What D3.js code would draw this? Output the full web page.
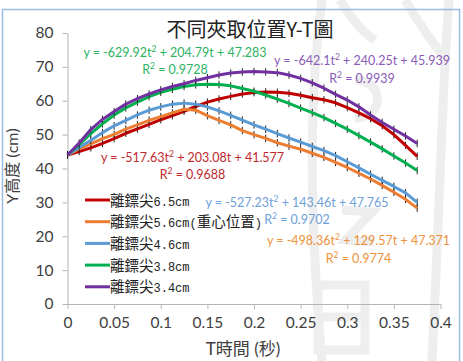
<!DOCTYPE html>
<html>
<head>
<meta charset="utf-8">
<script src="https://cdn.jsdelivr.net/npm/d3@7"></script>
<style>
  html, body { margin: 0; padding: 0; background: #fff; }
  svg { display: block; }
</style>
</head>
<body>
<svg id="chart" width="463" height="361"></svg>
<script>
// Sample times (s)
const times = [0, 0.0125, 0.025, 0.0375, 0.05, 0.0625, 0.075, 0.0875, 0.1, 0.1125,
  0.125, 0.1375, 0.15, 0.1625, 0.175, 0.1875, 0.2, 0.2125, 0.225, 0.2375,
  0.25, 0.2625, 0.275, 0.2875, 0.3, 0.3125, 0.325, 0.3375, 0.35, 0.3625, 0.375];

// Height (cm) for each grip position
const y65 = [44.0, 45.0, 46.1, 47.4, 48.8, 50.4, 51.7, 53.0, 54.4, 55.6,
  56.9, 58.3, 59.6, 60.5, 61.3, 62.0, 62.4, 62.6, 62.5, 62.2,
  61.6, 60.9, 60.3, 59.4, 58.0, 56.4, 54.7, 52.6, 50.0, 46.8, 43.6];
const y56 = [44.0, 45.8, 47.3, 48.8, 50.1, 51.6, 52.9, 54.2, 55.3, 56.4,
  57.5, 57.2, 55.6, 54.2, 52.9, 51.2, 50.0, 48.9, 47.6, 46.6,
  45.7, 44.5, 43.3, 41.8, 40.3, 38.6, 36.9, 35.0, 33.0, 30.9, 28.3];
const y46 = [44.0, 46.2, 48.3, 50.6, 52.6, 54.2, 55.8, 57.2, 58.2, 59.0,
  59.3, 59.0, 58.2, 57.0, 55.7, 54.3, 52.9, 51.6, 50.3, 49.0,
  47.8, 46.5, 45.3, 43.8, 42.0, 40.2, 38.3, 36.5, 34.7, 32.8, 30.0];
const y38 = [44.0, 47.0, 50.3, 53.2, 55.8, 57.9, 59.6, 61.2, 62.5, 63.4,
  64.2, 64.7, 64.9, 64.8, 64.4, 63.6, 62.8, 61.7, 60.5, 59.2,
  57.8, 56.5, 55.0, 53.3, 51.6, 49.7, 47.8, 45.8, 43.7, 41.6, 39.4];
const y34 = [44.0, 47.5, 51.5, 54.5, 56.8, 59.0, 60.6, 62.0, 63.2, 64.2,
  65.0, 66.0, 66.8, 67.6, 68.2, 68.5, 68.6, 68.5, 68.3, 67.6,
  66.6, 65.3, 63.7, 61.9, 60.2, 58.2, 55.8, 53.6, 51.6, 49.6, 47.4];

const seriesNames = ["離鏢尖6.5cm", "離鏢尖5.6cm(重心位置)", "離鏢尖4.6cm", "離鏢尖3.8cm", "離鏢尖3.4cm"];
const seriesValues = [y65, y56, y46, y38, y34];
const seriesColors = ["#c00000", "#ed7d31", "#5b9bd5", "#00b050", "#7030a0"];
const errorHalf = 1.1;

// Quadratic fit labels
const fitEq = [
  ["y = -517.63t", " + 203.08t + 41.577"],
  ["y = -498.36t", " + 129.57t + 47.371"],
  ["y = -527.23t", " + 143.46t + 47.765"],
  ["y = -629.92t", " + 204.79t + 47.283"],
  ["y = -642.1t", " + 240.25t + 45.939"]
];
const fitR2 = ["0.9688", "0.9774", "0.9702", "0.9728", "0.9939"];
const fitColors = ["#c0282d", "#ee913c", "#6ea1d8", "#2db35f", "#8b5bb8"];

const xTicks = [0, 0.05, 0.1, 0.15, 0.2, 0.25, 0.3, 0.35, 0.4];
const yTicks = [0, 10, 20, 30, 40, 50, 60, 70, 80];

const titleText = "不同夾取位置Y-T圖";
const xTitle = "T時間 (秒)";
const yTitle = "Y高度 (cm)";

// ---- layout ----
const svg = d3.select("#chart");
const plot = { left: 67.5, right: 440.5, top: 33, bottom: 304 };
const x = d3.scaleLinear().domain([0, 0.4]).range([plot.left, plot.right]);
const y = d3.scaleLinear().domain([0, 80]).range([plot.bottom, plot.top]);

const numFont = "Lato, 'Liberation Sans', sans-serif";
const cjkFont = "'Noto Sans CJK TC', 'Noto Sans CJK SC', sans-serif";

// faint background stamp
const wm = svg.append("g").attr("fill", "none").attr("stroke", "#eeeeee").attr("stroke-width", 9);
wm.append("path").attr("d", "M322,0 C310,90 308,200 322,361");
wm.append("path").attr("d", "M449,0 C442,90 440,200 432,361");
wm.append("path").attr("d", "M340,0 C352,20 362,32 375,40");
wm.append("path").attr("d", "M405,0 C420,25 430,40 448,62");
wm.append("path").attr("d", "M355,80 C385,80 385,118 355,118");
wm.append("path").attr("d", "M342,210 L372,212 L346,240 L374,242");
wm.append("path").attr("d", "M318,285 L365,285 L365,350 L318,350 Z M318,317 L365,317");

// chart frame
svg.append("rect").attr("x", 2.5).attr("y", 9.5).attr("width", 457).attr("height", 360)
  .attr("fill", "none").attr("stroke", "#9bbbe3").attr("stroke-width", 1.5);

// title
svg.append("text").attr("x", 250).attr("y", 37).attr("text-anchor", "middle")
  .attr("font-family", cjkFont).attr("font-size", 20).attr("fill", "#222")
  .text(titleText);

// axes
const axisColor = "#b5b5b5";
const gx = svg.append("g").attr("transform", `translate(0,${plot.bottom})`)
  .call(d3.axisBottom(x).tickValues(xTicks).tickSize(5).tickSizeOuter(0).tickFormat(d3.format("~g")));
const gy = svg.append("g").attr("transform", `translate(${plot.left},0)`)
  .call(d3.axisLeft(y).tickValues(yTicks).tickSize(5).tickSizeOuter(0));
[gx, gy].forEach(g => {
  g.select(".domain").attr("stroke", axisColor);
  g.selectAll(".tick line").attr("stroke", axisColor);
  g.selectAll(".tick text").attr("font-family", numFont).attr("font-size", 15.5).attr("fill", "#404040");
});
gx.selectAll(".tick text").attr("y", 13);
gy.selectAll(".tick text").attr("x", -14);

// axis titles
svg.append("text").attr("transform", "translate(18,166) rotate(-90)")
  .attr("text-anchor", "middle").attr("font-family", numFont + ", " + cjkFont)
  .attr("font-size", 16).attr("fill", "#404040").text(yTitle);
svg.append("text").attr("x", 243).attr("y", 355).attr("text-anchor", "middle")
  .attr("font-family", numFont + ", " + cjkFont)
  .attr("font-size", 17).attr("fill", "#404040").text(xTitle);

// series
const line = d3.line().x((d, i) => x(times[i])).y(d => y(d));
const gSeries = svg.append("g");
seriesValues.forEach((vals, s) => {
  const g = gSeries.append("g");
  g.selectAll("line.err").data(vals).join("line").attr("class", "err")
    .attr("x1", (d, i) => x(times[i])).attr("x2", (d, i) => x(times[i]))
    .attr("y1", d => y(d - errorHalf)).attr("y2", d => y(d + errorHalf))
    .attr("stroke", "#222").attr("stroke-width", 1);
  g.append("path").datum(vals).attr("d", line).attr("fill", "none")
    .attr("stroke", seriesColors[s]).attr("stroke-width", 3).attr("stroke-linejoin", "round");
});

// fit labels (centre x, baseline y of equation, baseline y of R²)
const fitPos = [[192.5, 162, 179], [358.5, 245, 263], [297, 207, 224], [175, 57, 74], [362, 65, 83]];
fitEq.forEach((eq, s) => {
  const [cx, by, ry] = fitPos[s];
  const t = svg.append("text").attr("x", cx).attr("y", by).attr("text-anchor", "middle")
    .attr("font-family", numFont).attr("font-size", 12.5).attr("fill", fitColors[s]);
  t.append("tspan").text(eq[0]);
  t.append("tspan").attr("dy", -5).attr("font-size", 8.5).text("2");
  t.append("tspan").attr("dy", 5).text(eq[1]);
  const r = svg.append("text").attr("x", cx).attr("y", ry).attr("text-anchor", "middle")
    .attr("font-family", numFont).attr("font-size", 12.5).attr("fill", fitColors[s]);
  r.append("tspan").text("R");
  r.append("tspan").attr("dy", -5).attr("font-size", 8.5).text("2");
  r.append("tspan").attr("dy", 5).text(" = " + fitR2[s]);
});

// legend: CJK runs and Latin runs get their own font
const runRe = /[\u3400-\u9fff]+|[^\u3400-\u9fff]+/g;
const legend = svg.append("g").attr("transform", "translate(85,200)");
seriesNames.forEach((name, s) => {
  const g = legend.append("g").attr("transform", `translate(0,${s * 21.7})`);
  g.append("line").attr("x1", 0).attr("x2", 25).attr("y1", 0).attr("y2", 0)
    .attr("stroke", seriesColors[s]).attr("stroke-width", 3);
  const t = g.append("text").attr("x", 25).attr("y", 5.5).attr("fill", "#222");
  name.match(runRe).forEach(run => {
    const cjk = /[\u3400-\u9fff]/.test(run);
    t.append("tspan")
      .attr("font-family", cjk ? cjkFont : "'Liberation Mono', monospace")
      .attr("font-size", cjk ? 14.5 : 12)
      .text(run);
  });
});
</script>
</body>
</html>
